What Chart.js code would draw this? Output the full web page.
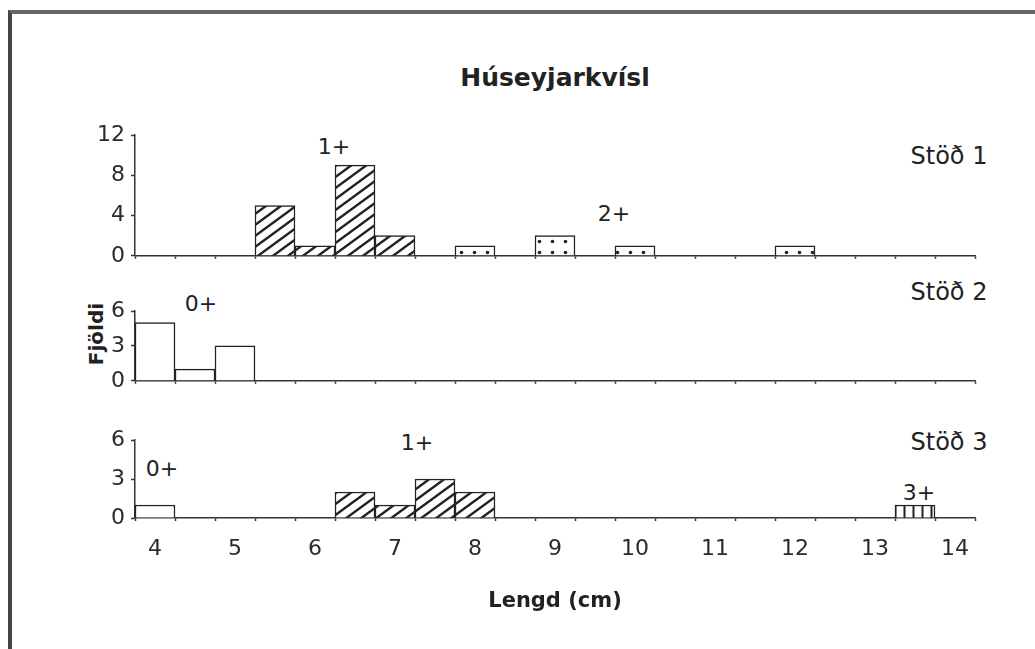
<!DOCTYPE html>
<html><head><meta charset="utf-8">
<script src="https://cdn.jsdelivr.net/npm/chart.js@4.4.1/dist/chart.umd.min.js"></script>
<style>
html,body{margin:0;padding:0;background:#fff;}
#wrap{position:relative;width:1035px;height:649px;overflow:hidden;background:#fff;font-family:"DejaVu Sans",sans-serif;color:#222;}
#frame{position:absolute;left:8px;top:10px;width:1100px;height:700px;border-left:4px solid #454545;border-top:4px solid #666;}
canvas{position:absolute;left:0;}
.t{position:absolute;white-space:nowrap;transform:translate(-50%,-50%);line-height:1;}
</style></head>
<body><div id="wrap">
<div id="frame"></div>
<div class="t" style="left:555px;top:77px;font-size:25px;font-weight:bold;">Húseyjarkvísl</div>
<div class="t" style="left:96px;top:334px;font-size:20px;font-weight:bold;transform:translate(-50%,-50%) rotate(-90deg);">Fjöldi</div>
<div class="t" style="left:949px;top:156px;font-size:24px;">Stöð 1</div>
<div class="t" style="left:949px;top:292px;font-size:24px;">Stöð 2</div>
<div class="t" style="left:949px;top:442px;font-size:24px;">Stöð 3</div>
<div class="t" style="left:334px;top:147px;font-size:22px;">1+</div>
<div class="t" style="left:614px;top:214px;font-size:22px;">2+</div>
<div class="t" style="left:201px;top:304px;font-size:22px;">0+</div>
<div class="t" style="left:162px;top:469px;font-size:22px;">0+</div>
<div class="t" style="left:417px;top:443px;font-size:22px;">1+</div>
<div class="t" style="left:919px;top:493px;font-size:22px;">3+</div>
<canvas id="c1" width="1035" height="160" style="top:115px"></canvas>
<canvas id="c2" width="1035" height="110" style="top:290px"></canvas>
<canvas id="c3" width="1035" height="198" style="top:420px"></canvas>
</div>
<script>
// Length bins (cm), 0.5 cm wide
const bins = [4,4.5,5,5.5,6,6.5,7,7.5,8,8.5,9,9.5,10,10.5,11,11.5,12,12.5,13,13.5,14];
// Stöð 1
const st1Age1 = [0,0,0,5,1,9,2,0,0,0,0,0,0,0,0,0,0,0,0,0,0];
const st1Age2 = [0,0,0,0,0,0,0,0,1,0,2,0,1,0,0,0,1,0,0,0,0];
// Stöð 2
const st2Age0 = [5,1,3,0,0,0,0,0,0,0,0,0,0,0,0,0,0,0,0,0,0];
// Stöð 3
const st3Age0 = [1,0,0,0,0,0,0,0,0,0,0,0,0,0,0,0,0,0,0,0,0];
const st3Age1 = [0,0,0,0,0,2,1,3,2,0,0,0,0,0,0,0,0,0,0,0,0];
const st3Age3 = [0,0,0,0,0,0,0,0,0,0,0,0,0,0,0,0,0,0,0,1,0];
// Tick values
const yTicksSt1 = [0,4,8,12];
const yTicksSt23 = [0,3,6];

const INK = '#222';
function tile(w,h,draw){const c=document.createElement('canvas');c.width=w;c.height=h;const g=c.getContext('2d');g.fillStyle='#fff';g.fillRect(0,0,w,h);draw(g,w,h);return g.createPattern(c,'repeat');}
function patterns(){
  return {
    hatch: tile(15,11,(g,w,h)=>{g.strokeStyle=INK;g.lineWidth=2.4;g.beginPath();for(const n of [-1,0,1]){g.moveTo(-3,h+h*n+3*h/w);g.lineTo(w+3,h*n-3*h/w);}g.stroke();}),
    dots: tile(13,11,(g)=>{g.fillStyle=INK;g.beginPath();g.arc(6.5,5.5,1.8,0,Math.PI*2);g.fill();}),
    vlines: tile(9,10,(g)=>{g.fillStyle=INK;g.fillRect(3.5,0,2,10);}),
    open: '#fff'
  };
}
const P = patterns();
function ds(values, fill){
  return {data: values.map(v => v === 0 ? null : v), backgroundColor: fill, borderColor: INK, borderWidth: 1.5,
    barPercentage: 1, categoryPercentage: 1, grouped: false};
}
function panel(id, datasets, yTicks, padTop, padBottom, xHeight, showX){
  const tickFont = {family: '"DejaVu Sans", sans-serif', size: 22};
  return new Chart(document.getElementById(id), {
    type: 'bar',
    data: {labels: bins, datasets},
    options: {
      responsive: false, animation: false,
      layout: {padding: {top: padTop, bottom: padBottom, left: 0, right: 60}},
      plugins: {legend: {display: false}, tooltip: {enabled: false}, title: {display: false}},
      scales: {
        x: {
          type: 'category', offset: true,
          grid: {display: true, offset: true, drawOnChartArea: false, drawTicks: true, tickLength: 3, color: '#333', tickWidth: 1.5},
          border: {display: true, color: '#333', width: 1.5},
          ticks: {display: showX, autoSkip: false, maxRotation: 0, padding: 15, color: '#2a2a2a', font: tickFont,
            callback: (v, i) => Number.isInteger(bins[i]) ? String(bins[i]) : ''},
          title: {display: showX, text: 'Lengd (cm)', color: INK, font: {family: '"DejaVu Sans", sans-serif', size: 21, weight: 'bold'}, padding: {top: 0, bottom: 4}},
          afterFit: s => { s.height = xHeight; }
        },
        y: {
          min: yTicks[0], max: yTicks[yTicks.length-1],
          afterBuildTicks: a => { a.ticks = yTicks.map(v => ({value: v})); },
          grid: {display: true, drawOnChartArea: false, drawTicks: true, tickLength: 4, color: '#333', tickWidth: 1.5},
          border: {display: true, color: '#333', width: 1.5},
          ticks: {padding: 6, color: '#2a2a2a', font: tickFont},
          afterFit: s => { s.width = 135; }
        }
      }
    }
  });
}
panel('c1', [ds(st1Age1, P.hatch), ds(st1Age2, P.dots)], yTicksSt1, 20, 6, 8, false);
panel('c2', [ds(st2Age0, P.open)], yTicksSt23, 21, 4, 8, false);
panel('c3', [ds(st3Age0, P.open), ds(st3Age1, P.hatch), ds(st3Age3, P.vlines)], yTicksSt23, 20, 0, 100, true);
</script>
</body></html>
